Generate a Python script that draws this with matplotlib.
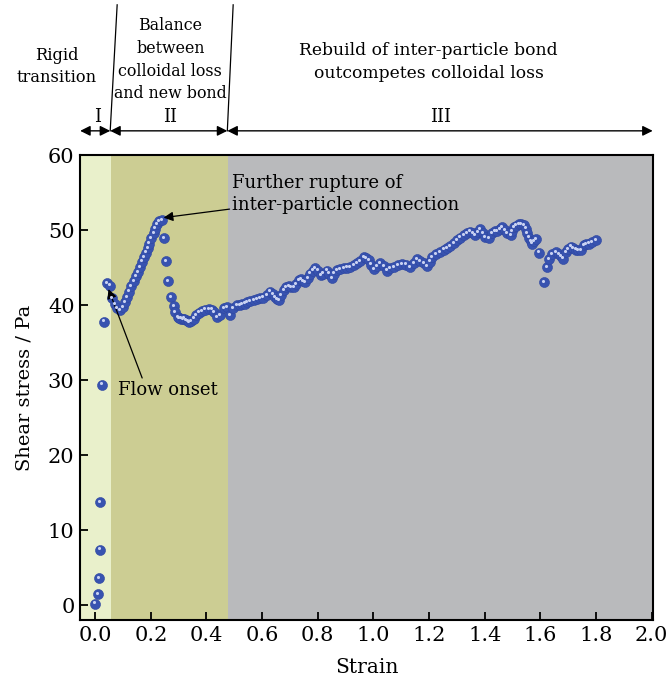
import numpy as np
import matplotlib
matplotlib.use("Agg")
import matplotlib.pyplot as plt
from matplotlib.transforms import offset_copy

plt.rcParams['font.family'] = ['DejaVu Serif']

# strain / shear stress
strain = [0.0, 0.01, 0.012, 0.016, 0.018, 0.023, 0.03, 0.042, 0.054, 0.062,
          0.072, 0.08, 0.09, 0.1, 0.108, 0.114, 0.122, 0.13, 0.138, 0.147,
          0.153, 0.162, 0.168, 0.176, 0.183, 0.19, 0.195, 0.201, 0.21, 0.216,
          0.222, 0.229, 0.24, 0.246, 0.255, 0.261, 0.273, 0.282, 0.288, 0.296,
          0.302, 0.308, 0.314, 0.32, 0.326, 0.332, 0.338, 0.344, 0.354, 0.362,
          0.372, 0.384, 0.396, 0.408, 0.42, 0.428, 0.438, 0.45, 0.462, 0.474,
          0.486, 0.497, 0.51, 0.52, 0.528, 0.537, 0.546, 0.558, 0.57, 0.582,
          0.594, 0.605, 0.617, 0.63, 0.638, 0.647, 0.655, 0.66, 0.668, 0.677,
          0.686, 0.695, 0.704, 0.713, 0.722, 0.731, 0.74, 0.748, 0.755, 0.764,
          0.773, 0.782, 0.791, 0.8, 0.81, 0.82, 0.833, 0.842, 0.851, 0.86,
          0.869, 0.881, 0.893, 0.905, 0.917, 0.929, 0.941, 0.953, 0.965, 0.974,
          0.983, 0.992, 1.001, 1.013, 1.025, 1.037, 1.049, 1.061, 1.073, 1.088,
          1.103, 1.118, 1.133, 1.145, 1.157, 1.169, 1.181, 1.193, 1.202, 1.211,
          1.226, 1.241, 1.253, 1.265, 1.277, 1.289, 1.301, 1.313, 1.325, 1.337,
          1.349, 1.358, 1.367, 1.376, 1.385, 1.394, 1.403, 1.415, 1.427, 1.436,
          1.445, 1.454, 1.463, 1.472, 1.481, 1.493, 1.499, 1.505, 1.514, 1.523,
          1.532, 1.541, 1.547, 1.553, 1.559, 1.565, 1.571, 1.578, 1.586, 1.595,
          1.615, 1.625, 1.633, 1.643, 1.655, 1.667, 1.674, 1.681, 1.691, 1.7,
          1.709, 1.718, 1.727, 1.736, 1.745, 1.757, 1.766, 1.775, 1.787, 1.799]
stress = [0.2, 1.5, 3.6, 7.4, 13.7, 29.4, 37.8, 42.9, 42.6, 40.9,
          40.1, 39.6, 39.3, 39.7, 40.4, 41.1, 41.8, 42.5, 43.2, 43.9,
          44.4, 45.1, 45.8, 46.4, 47.0, 47.6, 48.2, 48.9, 49.6, 50.2,
          50.8, 51.2, 51.3, 48.9, 45.9, 43.2, 41.1, 39.9, 39.1, 38.4,
          38.3, 38.2, 38.1, 38.2, 38.0, 37.9, 37.7, 37.9, 38.2, 38.7,
          39.0, 39.2, 39.4, 39.5, 39.4, 39.1, 38.4, 38.7, 39.6, 39.7,
          38.7, 39.6, 40.0, 40.0, 40.1, 40.2, 40.4, 40.5, 40.7, 40.8,
          40.9, 41.0, 41.3, 41.8, 41.5, 41.1, 40.8, 40.7, 41.3, 42.0,
          42.4, 42.5, 42.4, 42.4, 42.8, 43.3, 43.5, 43.2, 43.1, 43.6,
          44.2, 44.6, 44.9, 44.6, 44.0, 44.2, 44.6, 44.2, 43.6, 44.2,
          44.7, 44.8, 44.9, 45.0, 45.1, 45.3, 45.6, 45.9, 46.4, 46.3,
          46.0, 45.4, 44.8, 45.2, 45.6, 45.2, 44.6, 44.9, 45.1, 45.3,
          45.5, 45.4, 45.1, 45.6, 46.1, 45.9, 45.6, 45.2, 45.8, 46.4,
          46.8, 47.1, 47.4, 47.6, 47.9, 48.3, 48.7, 49.0, 49.3, 49.6,
          49.8, 49.6, 49.3, 49.7, 50.1, 49.6, 49.1, 48.9, 49.6, 49.9,
          49.9, 50.1, 50.4, 50.0, 49.6, 49.3, 49.9, 50.4, 50.6, 50.8,
          50.8, 50.7, 50.2, 49.6, 49.0, 48.5, 48.2, 48.5, 48.8, 47.0,
          43.1, 45.1, 46.1, 46.8, 47.1, 46.8, 46.5, 46.2, 47.1, 47.5,
          47.8, 47.6, 47.4, 47.3, 47.3, 48.0, 48.1, 48.2, 48.4, 48.7]

# stage boundaries (strain)
stage_edges = [-0.054, 0.058, 0.478, 2.005]
stage_colors = ['#e9f0cb', '#cccd93', '#b9babc']
xticks = [0.0, 0.2, 0.4, 0.6, 0.8, 1.0, 1.2, 1.4, 1.6, 1.8, 2.0]
yticks = [0, 10, 20, 30, 40, 50, 60]

fig = plt.figure(figsize=(6.68, 6.82), dpi=100)
ax = fig.add_axes([0.12, 0.0909, 0.8575, 0.6818])

for i in range(3):
    ax.axvspan(stage_edges[i], stage_edges[i + 1], color=stage_colors[i], lw=0, zorder=0)

# spheres: dark blue dot + small light highlight
ax.scatter(strain, stress, s=52, color='#3853b0', edgecolors='#2f47a0', linewidths=0.4, zorder=3)
hl = offset_copy(ax.transData, fig=fig, x=-1.0, y=1.2, units='dots')
ax.scatter(strain, stress, s=5, color='#c9d2f2', lw=0, transform=hl, zorder=4)

ax.set_xlim(stage_edges[0], stage_edges[-1])
ax.set_ylim(-2, 60)
ax.set_xticks(xticks)
ax.set_xticklabels(['%.1f' % t for t in xticks])
ax.set_yticks(yticks)
ax.tick_params(direction='in', length=6, width=1.3, labelsize=15, pad=4, top=False, right=False)
for sp in ax.spines.values():
    sp.set_linewidth(1.5)
ax.set_xlabel('Strain', fontsize=14.5, labelpad=10)
ax.set_ylabel('Shear stress / Pa', fontsize=14, labelpad=10)

# annotations inside
ax.annotate('Further rupture of\ninter-particle connection', xy=(0.236, 51.6), xytext=(0.493, 54.8),
            fontsize=13, va='center', ha='left', linespacing=1.3,
            arrowprops=dict(arrowstyle='-|>', color='black', lw=0.9, mutation_scale=14,
                            shrinkA=0, shrinkB=2))
ax.annotate('Flow onset', xy=(0.046, 42.3), xytext=(0.083, 28.7),
            fontsize=13, va='center', ha='left',
            arrowprops=dict(arrowstyle='-|>', color='black', lw=0.9, mutation_scale=14,
                            shrinkA=0, shrinkB=1, relpos=(0.25, 1.0)))

# stage arrows above plot
tr = ax.get_xaxis_transform()
ay = 1.052
for x0, x1 in [(-0.054, 0.054), (0.054, 0.475), (0.475, 2.004)]:
    ax.annotate('', xy=(x0, ay), xytext=(x1, ay), xycoords=tr, textcoords=tr,
                arrowprops=dict(arrowstyle='<|-|>', color='black', lw=1.0, mutation_scale=15,
                                shrinkA=0, shrinkB=0), annotation_clip=False)
for x0, x1 in [(0.054, 0.079), (0.475, 0.496)]:
    ax.plot([x0, x1], [ay, 1.323], transform=tr, color='black', lw=0.9, clip_on=False)

ax.text(0.007, 1.082, 'I', transform=tr, ha='center', va='center', fontsize=13)
ax.text(0.27, 1.082, 'II', transform=tr, ha='center', va='center', fontsize=13)
ax.text(1.241, 1.082, 'III', transform=tr, ha='center', va='center', fontsize=13)
ax.text(-0.137, 1.191, 'Rigid\ntransition', transform=tr, ha='center', va='center',
        fontsize=11.7, linespacing=1.4)
ax.text(0.27, 1.205, 'Balance\nbetween\ncolloidal loss\nand new bond', transform=tr,
        ha='center', va='center', fontsize=11.4, linespacing=1.45)
ax.text(1.198, 1.2, 'Rebuild of inter-particle bond\noutcompetes colloidal loss', transform=tr,
        ha='center', va='center', fontsize=12.3, linespacing=1.4)

fig.savefig('out.png', dpi=100)
